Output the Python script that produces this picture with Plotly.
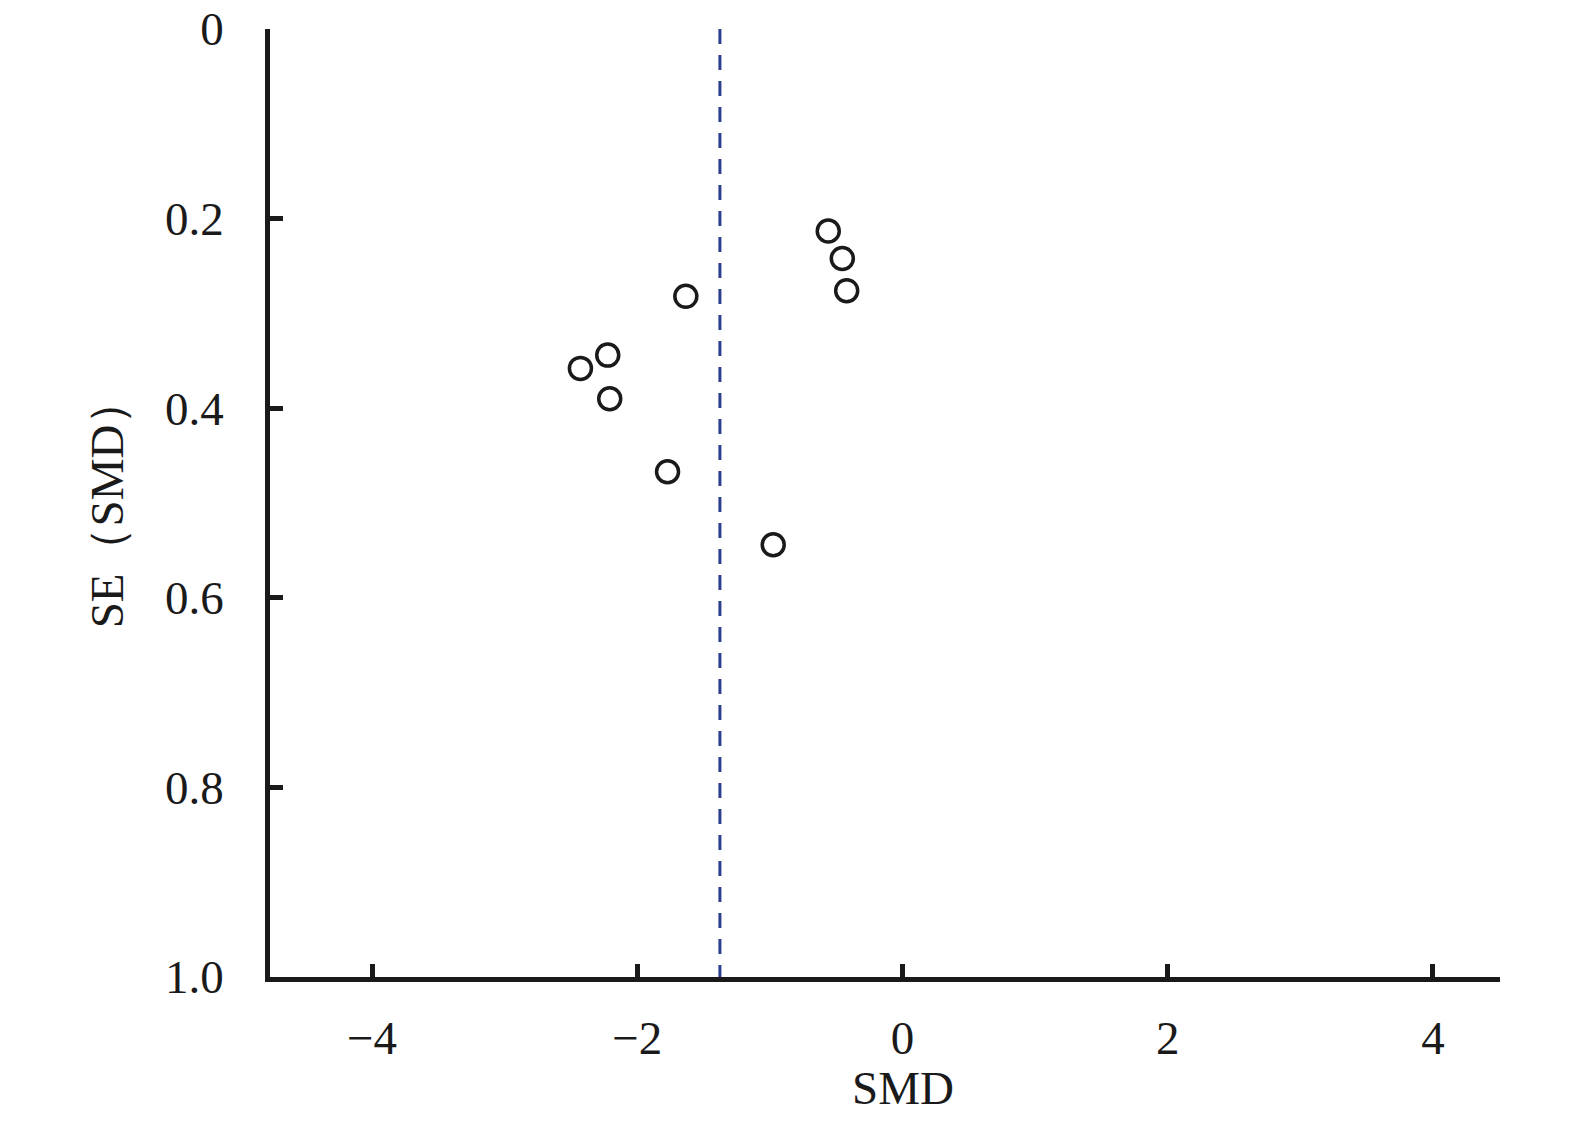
import plotly.graph_objects as go

# Study estimates (SMD) and their standard errors
smd = [-0.56, -0.454, -0.421, -1.634, -2.223, -2.429, -2.208, -1.772, -0.975]
se = [0.213, 0.242, 0.276, 0.282, 0.344, 0.358, 0.390, 0.467, 0.544]

pooled_smd = -1.377

x_ticks = [-4, -2, 0, 2, 4]
y_ticks = [0, 0.2, 0.4, 0.6, 0.8, 1.0]
y_tick_labels = ["0", "0.2", "0.4", "0.6", "0.8", "1.0"]

font_family = "Liberation Serif, Times New Roman, serif"
ink = "#1a1a1a"

fig = go.Figure()

fig.add_trace(go.Scatter(
    x=[pooled_smd, pooled_smd], y=[0, 1.0],
    mode="lines",
    line=dict(color="#2b3f8e", width=3, dash="15px,11px"),
    hoverinfo="skip", showlegend=False,
))

fig.add_trace(go.Scatter(
    x=smd, y=se,
    mode="markers",
    marker=dict(symbol="circle-open", size=22, color=ink, line=dict(width=3.5, color=ink)),
    showlegend=False,
))

fig.update_layout(
    width=1575, height=1126,
    paper_bgcolor="white", plot_bgcolor="white",
    margin=dict(l=262, r=83, t=21, b=157, autoexpand=False),
    font=dict(family=font_family, size=47, color=ink),
)

fig.update_xaxes(
    range=[-4.77, 4.506],
    tickvals=x_ticks,
    ticks="inside", ticklen=13, tickwidth=4.5, tickcolor=ink,
    showline=True, linewidth=4.5, linecolor=ink,
    showgrid=False, zeroline=False, automargin=False,
    ticklabelstandoff=16, ticklabeloverflow="allow",
    tickfont=dict(family=font_family, size=47, color=ink),
)

fig.update_yaxes(
    range=[1.0, 0],
    tickvals=y_ticks, ticktext=y_tick_labels,
    ticks="inside", ticklen=13, tickwidth=4.5, tickcolor=ink,
    showline=True, linewidth=4.5, linecolor=ink,
    showgrid=False, zeroline=False, automargin=False,
    ticklabelstandoff=32, ticklabeloverflow="allow",
    tickfont=dict(family=font_family, size=47, color=ink),
    title=dict(text="SE（SMD）", standoff=28, font=dict(family=font_family, size=47, color=ink)),
)

fig.add_annotation(
    text="SMD", x=0, xref="x", y=0, yref="paper",
    yanchor="middle", xanchor="center", yshift=-111,
    showarrow=False, font=dict(family=font_family, size=47, color=ink),
)

fig.write_html("out.html")
